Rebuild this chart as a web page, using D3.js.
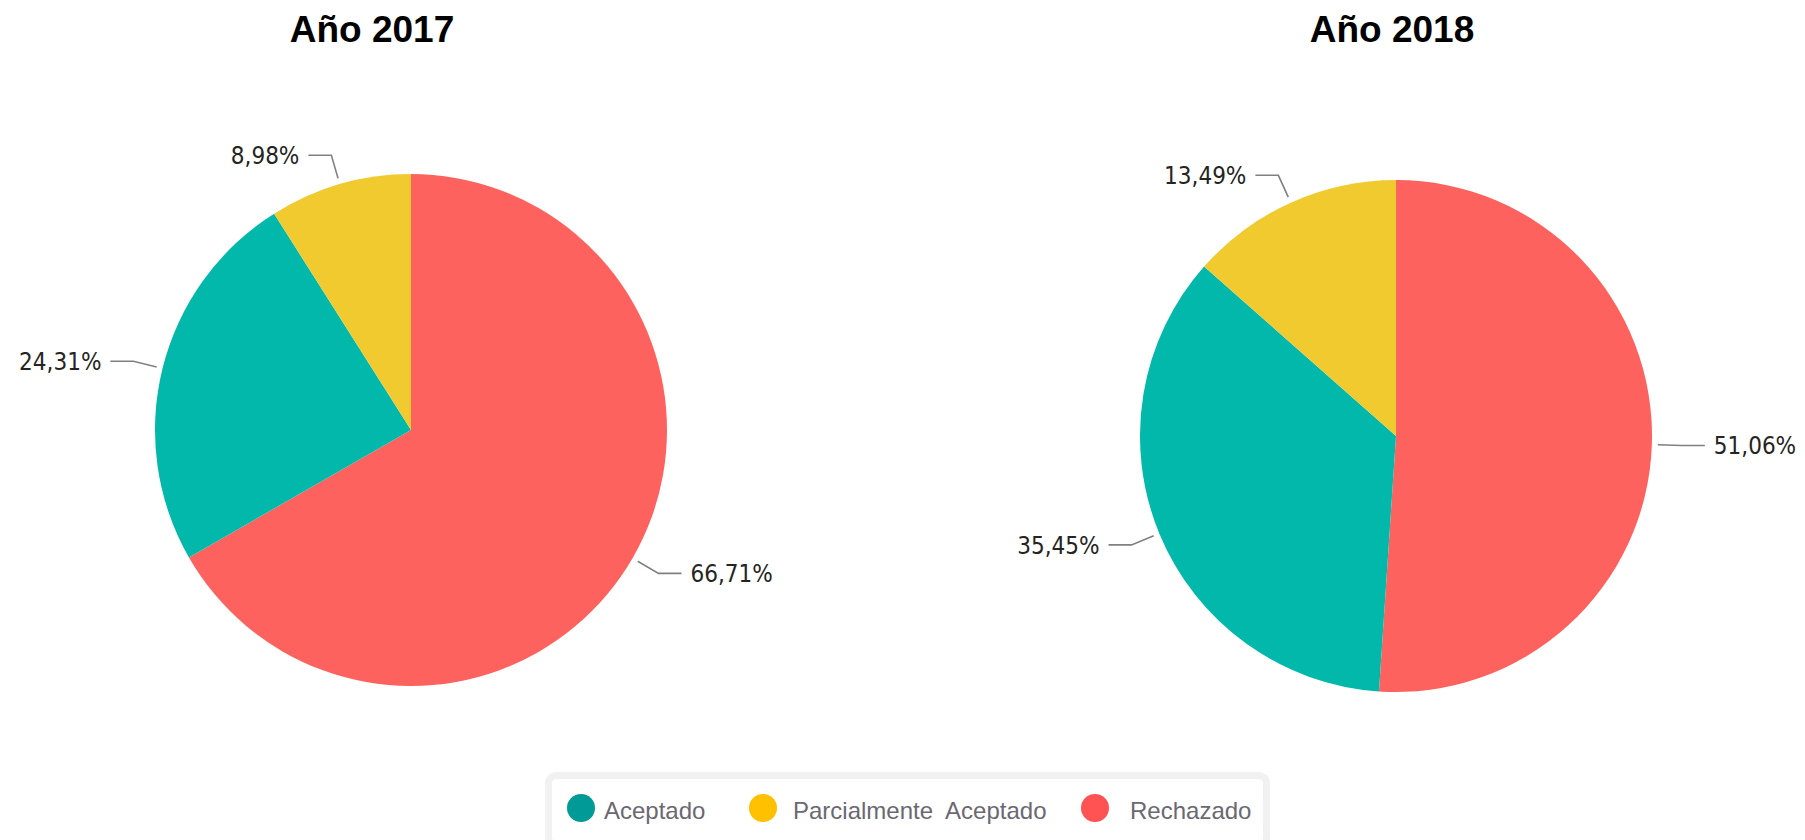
<!DOCTYPE html>
<meta charset="utf-8">
<style>
  body { margin: 0; background: #fff; }
  .title { font-family: "Liberation Sans", Arial, sans-serif; font-weight: bold; font-size: 37px; fill: #000; }
  .pct { font-family: "DejaVu Sans Condensed", "DejaVu Sans", sans-serif; font-stretch: condensed; font-size: 24px; fill: #252423; }
  .legend text { font-family: "Liberation Sans", Arial, sans-serif; font-size: 24px; fill: #6b6872; white-space: pre; }
</style>
<svg width="1805" height="840"></svg>
<script src="https://d3js.org/d3.v7.min.js"></script>
<script>
    // data
    var categories = ["Rechazado", "Aceptado", "Parcialmente Aceptado"];
    var years = ["Año 2017", "Año 2018"];
    var values2017 = [66.71, 24.31, 8.98];
    var values2018 = [51.06, 35.45, 13.49];
    var legendLabels = ["Aceptado", "Parcialmente  Aceptado", "Rechazado"];
    var legendKeys = ["Aceptado", "Parcialmente Aceptado", "Rechazado"];

    var svg = d3.select("svg"),
        width = +svg.attr("width"),
        height = +svg.attr("height"),
        radius = 256;

    var sliceColor = d3.scaleOrdinal()
        .domain(categories)
        .range(["#FD625E", "#01B8AA", "#F0CA2F"]);

    var legendColor = d3.scaleOrdinal()
        .domain(categories)
        .range(["#FF5252", "#009B96", "#FFC000"]);

    var cx = d3.scalePoint().domain(years).range([411, 1396]);
    var cy = d3.scaleOrdinal().domain(years).range([430, 436]);
    var titleX = d3.scaleOrdinal().domain(years).range([372, 1392]);

    var es = d3.formatLocale({decimal: ",", thousands: ".", grouping: [3], currency: ["", " €"]});
    var fmt = es.format(".2f");

    var pie = d3.pie().sort(null).value(function(d) { return d.value; });
    var arc = d3.arc().innerRadius(0).outerRadius(radius);

    var series = [values2017, values2018];

    years.forEach(function(year, i) {
        var data = categories.map(function(c, j) { return {cat: c, value: series[i][j]}; });
        var arcs = pie(data);

        svg.append("text")
            .attr("class", "title")
            .attr("x", titleX(year))
            .attr("y", 42)
            .attr("text-anchor", "middle")
            .text(year);

        var g = svg.append("g")
            .attr("transform", "translate(" + cx(year) + "," + cy(year) + ")");

        g.selectAll("path.slice")
            .data(arcs)
            .enter().append("path")
            .attr("class", "slice")
            .attr("fill", function(d) { return sliceColor(d.data.cat); })
            .attr("d", arc);

        var lab = g.selectAll("g.lab")
            .data(arcs)
            .enter().append("g")
            .attr("class", "lab");

        function pos(d, r) {
            var a = (d.startAngle + d.endAngle) / 2;
            return [r * Math.sin(a), -r * Math.cos(a)];
        }
        function side(d) {
            var a = (d.startAngle + d.endAngle) / 2;
            return Math.sin(a) >= 0 ? 1 : -1;
        }

        lab.append("polyline")
            .attr("fill", "none")
            .attr("stroke", "#808080")
            .attr("stroke-width", 1.6)
            .attr("points", function(d) {
                var p0 = pos(d, radius + 6), p1 = pos(d, radius + 30);
                var p2 = [p1[0] + side(d) * 23, p1[1]];
                return [p0, p1, p2].map(function(p) { return p.join(","); }).join(" ");
            });

        lab.append("text")
            .attr("class", "pct")
            .attr("x", function(d) { return pos(d, radius + 30)[0] + side(d) * 32; })
            .attr("y", function(d) { return pos(d, radius + 30)[1]; })
            .attr("dy", "0.36em")
            .attr("text-anchor", function(d) { return side(d) > 0 ? "start" : "end"; })
            .text(function(d) { return fmt(d.data.value) + "%"; });
    });

    // legend
    var legend = svg.append("g").attr("class", "legend");

    legend.append("rect")
        .attr("x", 548.5).attr("y", 775.5)
        .attr("width", 718).attr("height", 70)
        .attr("rx", 8)
        .attr("fill", "#fff")
        .attr("stroke", "#f1f1f1")
        .attr("stroke-width", 7);

    var itemX = d3.scaleOrdinal().domain(legendKeys).range([581, 763, 1095]);

    var item = legend.selectAll("g.item")
        .data(legendKeys)
        .enter().append("g")
        .attr("class", "item")
        .attr("transform", function(d) { return "translate(" + itemX(d) + ",808)"; });

    item.append("circle")
        .attr("r", 14)
        .attr("fill", function(d) { return legendColor(d); });

    item.append("text")
        .attr("x", function(d, i) { return [23, 30, 35][i]; })
        .attr("y", 11)
        .text(function(d, i) { return legendLabels[i]; });
</script>
